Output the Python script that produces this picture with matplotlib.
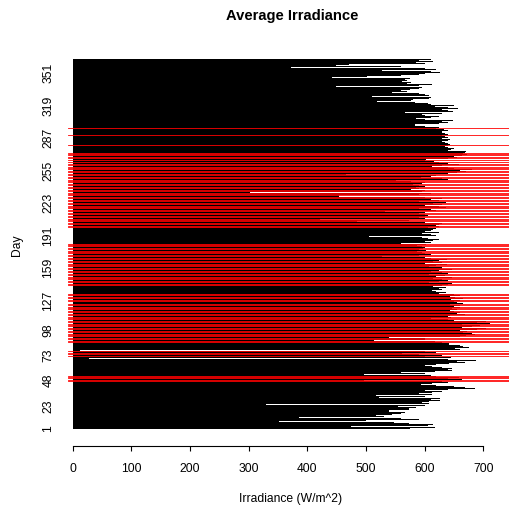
import matplotlib
matplotlib.use('Agg')
import matplotlib.pyplot as plt
import numpy as np

plt.rcParams['font.family'] = ['Liberation Sans', 'DejaVu Sans']

""" daily average irradiance (W/m^2), day 1 .. 365, read off the chart """
irradiance = [
    575, 617, 475, 605, 615, 573, 547, 351, 500, 590,
    560, 386, 530, 517, 545, 560, 567, 540, 573, 573,
    585, 555, 600, 330, 607, 595, 607, 627, 610, 627,
    522, 600, 517, 612, 590, 612, 629, 600, 640, 686,
    669, 650, 620, 593, 612, 640, 630, 497, 663, 640,
    658, 620, 610, 497, 600, 559, 618, 646, 640, 646,
    630, 612, 600, 620, 641, 669, 655, 688, 640, 27,
    645, 600, 629, 590, 561, 620, 600, 12, 660, 652,
    675, 665, 660, 641, 641, 630, 618, 514, 600, 539,
    661, 670, 686, 680, 665, 672, 661, 690, 705, 663,
    680, 695, 663, 712, 690, 705, 650, 640, 610, 645,
    640, 644, 669, 655, 660, 650, 644, 655, 646, 661,
    650, 660, 644, 666, 655, 650, 660, 645, 666, 652,
    644, 660, 650, 625, 637, 620, 612, 630, 625, 637,
    615, 630, 640, 646, 607, 625, 640, 630, 615, 646,
    620, 635, 607, 640, 630, 610, 625, 646, 630, 607,
    620, 638, 601, 630, 615, 625, 638, 610, 601, 527,
    590, 610, 600, 595, 587, 603, 590, 598, 600, 595,
    587, 603, 560, 610, 600, 615, 624, 605, 595, 505,
    620, 610, 595, 624, 600, 610, 615, 620, 605, 624,
    620, 624, 630, 600, 485, 573, 422, 600, 590, 601,
    605, 601, 590, 600, 533, 620, 610, 590, 637, 625,
    600, 630, 615, 637, 590, 625, 610, 630, 600, 454,
    590, 610, 303, 595, 601, 576, 590, 585, 600, 590,
    580, 595, 600, 576, 551, 640, 630, 593, 610, 620,
    466, 640, 655, 671, 660, 680, 650, 640, 612, 630,
    658, 640, 625, 616, 600, 603, 640, 655, 650, 663,
    673, 665, 668, 671, 640, 645, 650, 640, 635, 640,
    644, 640, 635, 630, 640, 644, 629, 640, 635, 630,
    640, 635, 630, 629, 640, 633, 620, 624, 600, 584,
    624, 640, 630, 649, 600, 586, 610, 624, 600, 595,
    629, 567, 649, 640, 630, 657, 640, 618, 650, 610,
    605, 584, 518, 576, 580, 607, 610, 510, 607, 600,
    590, 544, 570, 560, 575, 590, 595, 449, 590, 612,
    570, 576, 561, 570, 566, 575, 442, 502, 560, 590,
    601, 627, 610, 527, 620, 600, 373, 559, 449, 471,
    600, 586, 615, 590, 610,
]
days = np.arange(1, len(irradiance) + 1)

# highlighted (red) days
red_days = [
    48, 49, 51, 52, 53,
    72, 74, 75, 77,
    86, 87, 89, 90, 92, 93, 94, 96, 97, 99, 100, 102, 103, 104, 106, 107,
    109, 110, 111, 113, 114, 116, 117, 119, 120, 121, 123, 124, 126, 127,
    129, 130, 132, 133,
    142, 143, 145, 146, 148, 149, 150, 152, 153, 155, 156, 158, 159, 161,
    162, 163, 165, 166, 168, 169, 171, 172, 174, 175, 176, 178, 179, 181,
    182, 183,
    199, 200, 202, 203, 205, 206, 207, 209, 210, 212, 213, 215, 216, 218,
    219, 220, 222, 223, 225, 226, 228, 229, 231, 232, 233, 235, 236, 238,
    239, 241, 242, 244, 245, 246, 248, 249, 251, 252, 254, 255, 257, 258,
    259, 261, 262, 264, 265, 267, 268, 270, 271, 272,
    280, 290, 297,
]

day_ticks = [1, 23, 48, 73, 98, 127, 159, 191, 223, 255, 287, 319, 351]
x_ticks = [0, 100, 200, 300, 400, 500, 600, 700]

fig = plt.figure(figsize=(5.1, 5.08), dpi=100)
ax = fig.add_axes([0.1327, 0.155, 0.8673, 0.7297])

ax.barh(days, irradiance, height=1.0, color='black', linewidth=0)
for d in red_days:
    ax.axhline(d, color='red', linewidth=0.6)

ax.set_xlim(-8.5, 745.5)
ax.set_ylim(0, 365.5)

for s in ['top', 'right', 'left']:
    ax.spines[s].set_visible(False)
ax.spines['bottom'].set_position(('outward', 12))
ax.spines['bottom'].set_bounds(0, 700)
ax.spines['bottom'].set_linewidth(0.8)

ax.set_xticks(x_ticks)
ax.set_xticklabels([str(v) for v in x_ticks], fontsize=8.7)
ax.tick_params(axis='x', length=3.6, width=0.8, pad=9, colors='black')
ax.set_yticks(day_ticks)
ax.set_yticklabels([str(v) for v in day_ticks], fontsize=8.7, rotation=90, va='center')
ax.tick_params(axis='y', length=0, pad=9.5)

fig.text(0.572, 0.968, 'Average Irradiance', ha='center', va='center', fontsize=10.6, fontweight='bold')
fig.text(0.569, 0.018, 'Irradiance (W/m^2)', ha='center', va='center', fontsize=8.7)
fig.text(0.033, 0.518, 'Day', ha='center', va='center', rotation=90, fontsize=8.7)

plt.savefig('out.png', dpi=100)
